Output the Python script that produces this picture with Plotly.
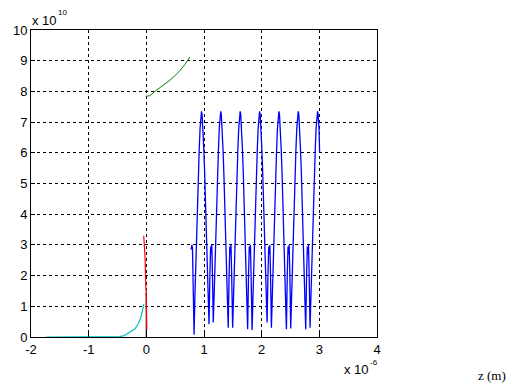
import plotly.graph_objects as go

# scaled units: x in 1e-6 m, y in 1e10
cyan_x = [-1.74, -1.40, -1.00, -0.70, -0.46, -0.38, -0.315, -0.25, -0.20, -0.15, -0.11, -0.085, -0.066, -0.043]
cyan_y = [0.0, 0.0, 0.0, 0.0, 0.01, 0.05, 0.12, 0.19, 0.26, 0.40, 0.55, 0.72, 0.88, 1.07]

red_x = [-0.045, -0.043, -0.040, -0.030, -0.022, -0.018, -0.010, -0.002, 0.004, 0.008]
red_y = [3.30, 3.05, 2.90, 2.85, 2.60, 1.80, 1.70, 1.40, 0.80, 0.25]

black_x = [0.0, 0.0]
black_y = [0.0, 1.45]

green_x = [-0.01, 0.06, 0.148, 0.234, 0.32, 0.407, 0.494, 0.58, 0.667, 0.754]
green_y = [7.84, 7.86, 8.00, 8.11, 8.22, 8.36, 8.51, 8.67, 8.87, 9.12]

blue_x = [
    0.776, 0.790, 0.800, 0.815,
    0.828, 0.842, 0.857, 0.872, 0.887, 0.902, 0.917, 0.932, 0.947, 0.957, 0.967, 0.982, 0.997, 1.012, 1.027, 1.042, 1.057, 1.072, 1.087,
    1.102, 1.115, 1.125, 1.135, 1.147,
    1.160, 1.175, 1.190, 1.205, 1.220, 1.235, 1.250, 1.265, 1.280, 1.290, 1.300, 1.315, 1.330, 1.345, 1.360, 1.375, 1.390, 1.405, 1.420,
    1.435, 1.448, 1.458, 1.468, 1.480,
    1.497, 1.512, 1.527, 1.542, 1.557, 1.572, 1.587, 1.602, 1.617, 1.627, 1.637, 1.652, 1.667, 1.682, 1.697, 1.712, 1.727, 1.742, 1.757,
    1.772, 1.785, 1.795, 1.805, 1.817,
    1.834, 1.849, 1.864, 1.879, 1.894, 1.909, 1.924, 1.939, 1.954, 1.964, 1.974, 1.989, 2.004, 2.019, 2.034, 2.049, 2.064, 2.079, 2.094,
    2.109, 2.122, 2.132, 2.142, 2.154,
    2.169, 2.184, 2.199, 2.214, 2.229, 2.244, 2.259, 2.274, 2.289, 2.299, 2.309, 2.324, 2.339, 2.354, 2.369, 2.384, 2.399, 2.414, 2.429,
    2.444, 2.457, 2.467, 2.477, 2.489,
    2.504, 2.519, 2.534, 2.549, 2.564, 2.579, 2.594, 2.609, 2.624, 2.634, 2.644, 2.659, 2.674, 2.689, 2.704, 2.719, 2.734, 2.749, 2.764,
    2.779, 2.792, 2.802, 2.812, 2.824,
    2.839, 2.854, 2.869, 2.884, 2.899, 2.914, 2.929, 2.944, 2.959, 2.969, 2.979, 2.994, 3.005,
]
blue_y = [
    2.85, 3.00, 2.90, 1.50,
    0.07, 1.30, 2.40, 3.40, 4.40, 5.30, 6.10, 6.80, 7.25, 7.35, 7.25, 6.80, 6.10, 5.30, 4.40, 3.40, 2.40, 1.30, 0.42,
    2.00, 2.95, 2.70, 3.00, 2.00,
    0.47, 1.30, 2.40, 3.40, 4.40, 5.30, 6.10, 6.80, 7.25, 7.35, 7.25, 6.80, 6.10, 5.30, 4.40, 3.40, 2.40, 1.30, 0.30,
    2.00, 2.95, 2.70, 3.00, 2.00,
    0.30, 1.30, 2.40, 3.40, 4.40, 5.30, 6.10, 6.80, 7.25, 7.35, 7.25, 6.80, 6.10, 5.30, 4.40, 3.40, 2.40, 1.30, 0.25,
    2.00, 2.95, 2.70, 3.00, 2.00,
    0.23, 1.30, 2.40, 3.40, 4.40, 5.30, 6.10, 6.80, 7.25, 7.35, 7.25, 6.80, 6.10, 5.30, 4.40, 3.40, 2.40, 1.30, 0.47,
    2.00, 2.95, 2.70, 3.00, 2.00,
    0.30, 1.30, 2.40, 3.40, 4.40, 5.30, 6.10, 6.80, 7.25, 7.35, 7.25, 6.80, 6.10, 5.30, 4.40, 3.40, 2.40, 1.30, 0.25,
    2.00, 2.95, 2.70, 3.00, 2.00,
    0.28, 1.30, 2.40, 3.40, 4.40, 5.30, 6.10, 6.80, 7.25, 7.35, 7.25, 6.80, 6.10, 5.30, 4.40, 3.40, 2.40, 1.30, 0.25,
    2.00, 2.95, 2.70, 3.00, 2.00,
    0.30, 1.30, 2.40, 3.40, 4.40, 5.30, 6.10, 6.80, 7.25, 7.35, 7.25, 6.80, 6.00,
]

x_ticks = [-2, -1, 0, 1, 2, 3, 4]
y_ticks = [0, 1, 2, 3, 4, 5, 6, 7, 8, 9, 10]

W, H = 518, 389
L, R, T, B = 30.5, 377.0, 30.3, 337.3


def px(x):
    return (x - L) / (R - L)


def py(y):
    return (B - y) / (B - T)


SANS = "Liberation Sans, Arial"

fig = go.Figure()
fig.add_trace(go.Scatter(x=cyan_x, y=cyan_y, mode="lines", line=dict(color="#00BFBF", width=1.2)))
fig.add_trace(go.Scatter(x=black_x, y=black_y, mode="lines", line=dict(color="black", width=1.2)))
fig.add_trace(go.Scatter(x=red_x, y=red_y, mode="lines", line=dict(color="red", width=1.2)))
fig.add_trace(go.Scatter(x=green_x, y=green_y, mode="lines", line=dict(color="#008000", width=1)))
fig.add_trace(go.Scatter(x=blue_x, y=blue_y, mode="lines", line=dict(color="blue", width=1.3)))

axis_common = dict(
    showline=True, linecolor="black", linewidth=1, mirror=True,
    showgrid=True, gridcolor="black", gridwidth=1, griddash="3px,3px",
    ticks="inside", ticklen=4, tickcolor="black", zeroline=False,
    tickfont=dict(family=SANS, size=13, color="black"),
)


def label(text, x, y, size, family=SANS):
    return dict(text=text, xref="paper", yref="paper", x=px(x), y=py(y),
                xanchor="left", yanchor="middle", showarrow=False,
                font=dict(family=family, size=size, color="black"))


fig.update_layout(
    width=W, height=H,
    margin=dict(l=L, r=W - R, t=T, b=H - B, pad=0),
    paper_bgcolor="white", plot_bgcolor="white",
    showlegend=False,
    xaxis=dict(range=[-2, 4], tickvals=x_ticks, ticktext=[str(v) for v in x_ticks], **axis_common),
    yaxis=dict(range=[0, 10], tickvals=y_ticks, ticktext=[str(v) for v in y_ticks], **axis_common),
    annotations=[
        label("x 10", 29, 20.5, 13),
        label("10", 56, 13, 8),
        label("x 10", 342, 370, 13),
        label("-6", 368, 362.5, 8),
        label("z (m)", 476, 375.5, 13, "Liberation Serif, Times New Roman"),
    ],
)

fig.write_html("out.html")
